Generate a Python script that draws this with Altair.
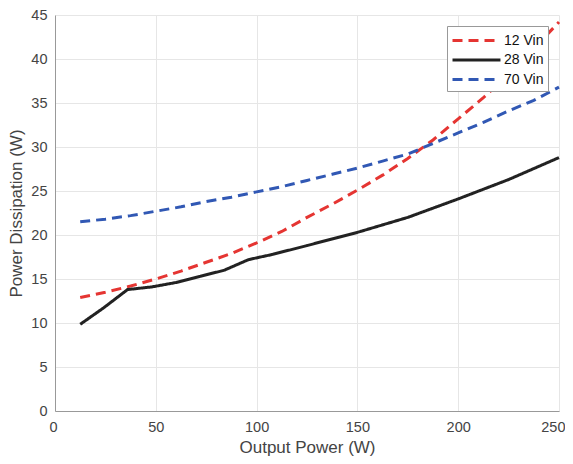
import altair as alt
import pandas as pd

x12 = [12.5, 25, 37.5, 50, 62.5, 75, 87.5, 100, 112.5, 125, 137.5, 150, 162.5, 175, 187.5, 200, 212.5, 225, 237.5, 250]
y12 = [12.9, 13.5, 14.2, 15.0, 15.9, 16.9, 17.9, 19.1, 20.4, 22.0, 23.5, 25.1, 26.8, 28.7, 30.8, 33.2, 35.6, 38.3, 41.2, 44.2]

x28 = [12.5, 24, 36, 48, 60, 72, 84, 96, 108, 125, 150, 175, 200, 225, 250]
y28 = [9.85, 11.7, 13.8, 14.1, 14.6, 15.3, 16.0, 17.2, 17.8, 18.8, 20.3, 22.0, 24.1, 26.3, 28.8]

x70 = x12
y70 = [21.5, 21.8, 22.2, 22.7, 23.2, 23.8, 24.3, 24.9, 25.5, 26.2, 26.9, 27.6, 28.4, 29.2, 30.4, 31.6, 32.8, 34.1, 35.3, 36.8]

series = ["12 Vin", "28 Vin", "70 Vin"]
colors = ["#E53532", "#222222", "#3158B4"]
dashes = [[10, 6], [1, 0], [10, 6]]

rows = []
for name, xs, ys in [(series[0], x12, y12), (series[1], x28, y28), (series[2], x70, y70)]:
    for i, (a, b) in enumerate(zip(xs, ys)):
        rows.append({"series": name, "P": a, "D": b, "o": i})
df = pd.DataFrame(rows)

font = "Liberation Sans"

leg = alt.Legend(title=None, orient="none", legendX=392, legendY=11)

chart = alt.Chart(df).mark_line(strokeWidth=3).encode(
    x=alt.X("P:Q", scale=alt.Scale(domain=[0, 250], nice=False),
            axis=alt.Axis(title="Output Power (W)", values=[0, 50, 100, 150, 200, 250],
                          labelFlush=True, labelFlushOffset=6, labelPadding=9, titlePadding=6)),
    y=alt.Y("D:Q", scale=alt.Scale(domain=[0, 45], nice=False),
            axis=alt.Axis(title="Power Dissipation (W)", values=list(range(0, 46, 5)),
                          labelPadding=8, titlePadding=5)),
    color=alt.Color("series:N", scale=alt.Scale(domain=series, range=colors), legend=leg),
    strokeDash=alt.StrokeDash("series:N", scale=alt.Scale(domain=series, range=dashes), legend=leg),
    order="o:Q",
).properties(
    width=504, height=396,
    autosize=alt.AutoSizeParams(type="none"),
    padding={"left": 47, "top": 7, "right": 6, "bottom": 45},
).configure_view(stroke=None).configure_axis(
    labelFont=font, titleFont=font, labelFontSize=14.5, titleFontSize=17,
    labelColor="#444444", titleColor="#444444", titleFontWeight="normal",
    gridColor="#e6e6e6", gridWidth=1, domainColor="#999999", domainWidth=1,
    ticks=False,
).configure_legend(
    labelFont=font, labelFontSize=14, labelColor="#111111",
    symbolType="M-1,0H4.33", symbolSize=324, symbolStrokeWidth=3,
    symbolFillColor="transparent",
    strokeColor="#999999", fillColor="white", padding=4, rowPadding=1.5,
    labelOffset=32,
)

chart.save("out.html", embed_options={"renderer": "svg", "actions": False})
